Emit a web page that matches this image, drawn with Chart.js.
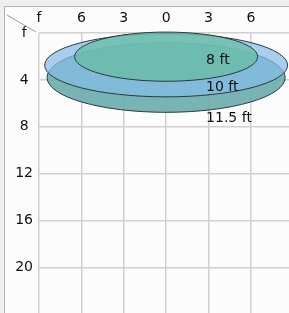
<!DOCTYPE html>
<html>
<head>
    <title>Pool sizes</title>
    <script src="https://cdn.jsdelivr.net/npm/chart.js"></script>
    <style>
        body { margin: 0; background: #efefef; overflow: hidden; }
        #frame { position: absolute; left: 4px; top: 6px; width: 320px; height: 340px;
                 border: 1px solid #b4b4b4; background: #fcfcfc; }
        #chart { position: absolute; left: 0; top: 0; }
    </style>
</head>
<body>
    <div id="frame"></div>
    <canvas id="chart" width="289" height="313"></canvas>

    <script>
        // pools, drawn bottom to top
        var poolNames = ["11.5 ft", "10 ft", "8 ft"];
        var centerX = [0, 0, 0];
        var centerY = [3.8, 2.75, 2.02];
        var radiusX = [8.43, 8.6, 6.48];
        var radiusY = [2.97, 2.7, 2.1];
        var labelX = [2.83, 2.83, 2.83];
        var labelY = [7.3, 4.6, 2.3];
        var poolColors = ["rgba(105,172,172,0.9)", "rgba(134,188,231,0.72)", "rgba(105,190,165,0.78)"];

        // tick label text
        var xTickText = { "-9": "f", "-6": "6", "-3": "3", "0": "0", "3": "3", "6": "6" };
        var yTickText = { "0": "f", "4": "4", "8": "8", "12": "12", "16": "16", "20": "20" };

        var font = { family: "DejaVu Sans", size: 14 };

        var poolPlugin = {
            id: "pools",
            beforeDatasetsDraw: function (chart) {
                var ctx = chart.ctx;
                var x = chart.scales.x, y = chart.scales.y;
                ctx.save();
                for (var i = 0; i < poolNames.length; i++) {
                    var cx = x.getPixelForValue(centerX[i]);
                    var cy = y.getPixelForValue(centerY[i]);
                    var rx = Math.abs(x.getPixelForValue(centerX[i] + radiusX[i]) - cx);
                    var ry = Math.abs(y.getPixelForValue(centerY[i] + radiusY[i]) - cy);
                    ctx.beginPath();
                    ctx.ellipse(cx, cy, rx, ry, 0, 0, 2 * Math.PI);
                    ctx.fillStyle = poolColors[i];
                    ctx.fill();
                    ctx.lineWidth = 1;
                    ctx.strokeStyle = "#2b3940";
                    ctx.stroke();
                }
                ctx.fillStyle = "#111";
                ctx.font = "14px 'DejaVu Sans'";
                ctx.textAlign = "left";
                ctx.textBaseline = "middle";
                for (var j = 0; j < poolNames.length; j++) {
                    ctx.fillText(poolNames[j], x.getPixelForValue(labelX[j]), y.getPixelForValue(labelY[j]));
                }
                ctx.restore();
            },
            afterDraw: function (chart) {
                // corner divider
                var ctx = chart.ctx, a = chart.chartArea;
                ctx.save();
                ctx.beginPath();
                ctx.moveTo(a.left - 32, a.top - 18);
                ctx.lineTo(a.left - 3, a.top - 1);
                ctx.strokeStyle = "#9a9a9a";
                ctx.lineWidth = 1;
                ctx.stroke();
                ctx.restore();
            }
        };

        var ctx = document.getElementById("chart").getContext("2d");
        var chart = new Chart(ctx, {
            type: "scatter",
            data: { datasets: [] },
            plugins: [poolPlugin],
            options: {
                responsive: false,
                animation: false,
                layout: { padding: 0 },
                plugins: { legend: { display: false }, tooltip: { enabled: false } },
                scales: {
                    x: {
                        type: "linear",
                        position: "top",
                        min: -9,
                        max: 8.7,
                        afterFit: function (s) {
                            s.height = 33;
                            s.paddingLeft = 0; s.paddingRight = 0; s.paddingTop = 0; s.paddingBottom = 0;
                        },
                        border: { display: false },
                        grid: { color: "#d0d0d0", lineWidth: 1.5, drawTicks: false },
                        ticks: {
                            stepSize: 3,
                            includeBounds: false,
                            padding: 6,
                            color: "#111",
                            font: font,
                            maxRotation: 0,
                            callback: function (v) { return xTickText[v]; }
                        }
                    },
                    y: {
                        type: "linear",
                        position: "left",
                        reverse: true,
                        min: 0,
                        max: 23.9,
                        afterFit: function (s) {
                            s.width = 39;
                            s.paddingLeft = 0; s.paddingRight = 0; s.paddingTop = 0; s.paddingBottom = 0;
                        },
                        border: { display: false },
                        grid: { color: "#d0d0d0", lineWidth: 1.5, drawTicks: false },
                        ticks: {
                            stepSize: 4,
                            includeBounds: false,
                            padding: 6,
                            crossAlign: "center",
                            color: "#111",
                            font: font,
                            callback: function (v) { return yTickText[v]; }
                        }
                    }
                }
            }
        });
    </script>
</body>
</html>
